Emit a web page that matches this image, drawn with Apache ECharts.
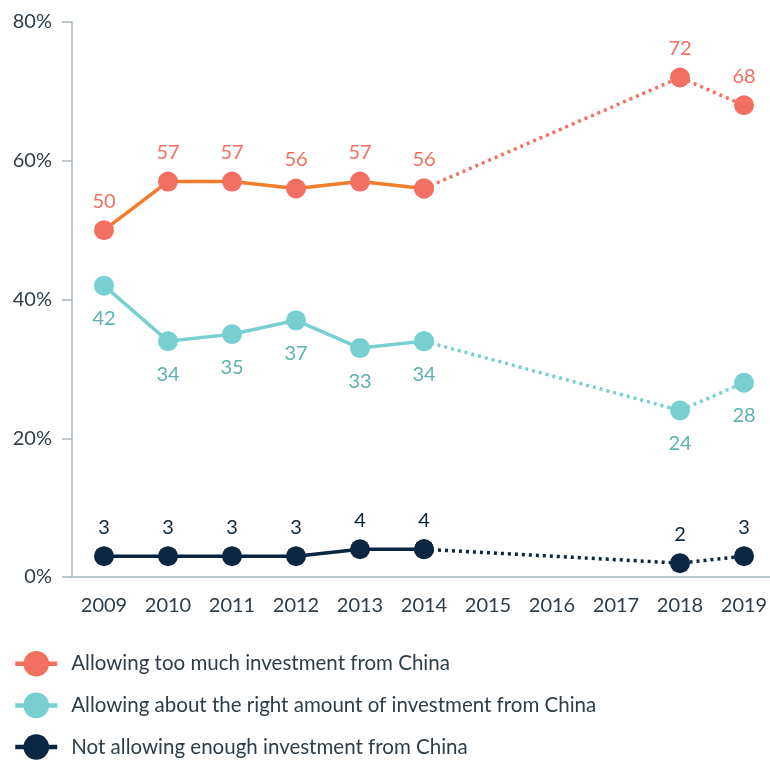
<!DOCTYPE html>
<html>
<head>
<meta charset="utf-8">
<script src="https://cdn.jsdelivr.net/npm/echarts@6/dist/echarts.min.js"></script>
<style>
  html, body { margin: 0; padding: 0; background: #fff; }
  #chart { width: 770px; height: 760px; }
</style>
</head>
<body>
<div id="chart"></div>
<script>
// survey years (2015-2017 have no data)
const years = ['2009', '2010', '2011', '2012', '2013', '2014', '2015', '2016', '2017', '2018', '2019'];
const tooMuch = [50, 57, 57, 56, 57, 56, null, null, null, 72, 68];
const aboutRight = [42, 34, 35, 37, 33, 34, null, null, null, 24, 28];
const notEnough = [3, 3, 3, 3, 4, 4, null, null, null, 2, 3];
const yTicks = [0, 20, 40, 60, 80];
const names = [
    'Allowing too much investment from China',
    'Allowing about the right amount of investment from China',
    'Not allowing enough investment from China'
];
// last year of the continuous (solid) part
const breakIdx = 5;

const font = 'Lato, "Noto Sans", sans-serif';
const axisColor = '#a7b6be';
const textColor = '#2e3d47';

const groups = [
    {name: names[0], values: tooMuch, dot: '#f27061', line: '#f47a2c', label: '#f27061', pos: 'top', dist: 9},
    {name: names[1], values: aboutRight, dot: '#78cfd0', line: '#78cfd0', label: '#5fb1b1', pos: 'bottom', dist: 13},
    {name: names[2], values: notEnough, dot: '#0b2640', line: '#0b2640', label: '#0b2640', pos: 'top', dist: 9}
];

const series = []
groups.forEach(g => {
    const label = {
        show: true,
        position: g.pos,
        distance: g.dist,
        color: g.label,
        fontSize: 20,
        fontFamily: font
    }
    series.push({
        name: g.name,
        type: 'line',
        data: g.values.map((v, i) => i <= breakIdx ? v : null),
        symbol: 'circle',
        symbolSize: 20,
        itemStyle: {color: g.dot},
        lineStyle: {color: g.line, width: 3.5},
        label: label,
        z: 3
    })
    series.push({
        name: g.name + ' (later)',
        type: 'line',
        connectNulls: true,
        data: g.values.map((v, i) => {
            if (i < breakIdx) return null
            return {value: v, label: {show: i > breakIdx}}
        }),
        symbol: 'circle',
        symbolSize: 20,
        itemStyle: {color: g.dot},
        lineStyle: {color: g.dot, width: 3.5, type: [3, 4]},
        label: label,
        z: 2
    })
})

const chart = echarts.init(document.getElementById('chart'), null, {renderer: 'canvas'});
chart.setOption({
    animation: false,
    grid: {
        left: 72,
        right: -6,
        top: 22,
        bottom: 183,
        outerBoundsMode: 'none'
    },
    legend: {
        orient: 'vertical',
        left: 8,
        top: 646,
        height: 120,
        itemWidth: 42,
        itemHeight: 32,
        itemGap: 16,
        selectedMode: false,
        data: groups.map(g => ({
            name: g.name,
            itemStyle: {color: g.dot},
            lineStyle: {color: g.dot, width: 4.5, type: 'solid'}
        })),
        textStyle: {
            color: textColor,
            fontSize: 20.5,
            fontFamily: font,
            padding: [0, 0, 0, 9]
        }
    },
    xAxis: {
        type: 'category',
        data: years,
        boundaryGap: true,
        axisLine: {lineStyle: {color: axisColor, width: 1.5}},
        axisTick: {alignWithLabel: true, length: 10, lineStyle: {color: axisColor, width: 1.5}},
        axisLabel: {
            interval: 0,
            margin: 19,
            color: textColor,
            fontSize: 20,
            fontFamily: font
        }
    },
    yAxis: {
        type: 'value',
        min: yTicks[0],
        max: yTicks[yTicks.length - 1],
        interval: yTicks[1] - yTicks[0],
        splitLine: {show: false},
        axisLine: {show: true, lineStyle: {color: axisColor, width: 1.5}},
        axisTick: {show: true, length: 10, lineStyle: {color: axisColor, width: 1.5}},
        axisLabel: {
            formatter: '{value}%',
            margin: 20,
            color: textColor,
            fontSize: 20,
            fontFamily: font
        }
    },
    series: series
})
</script>
</body>
</html>
